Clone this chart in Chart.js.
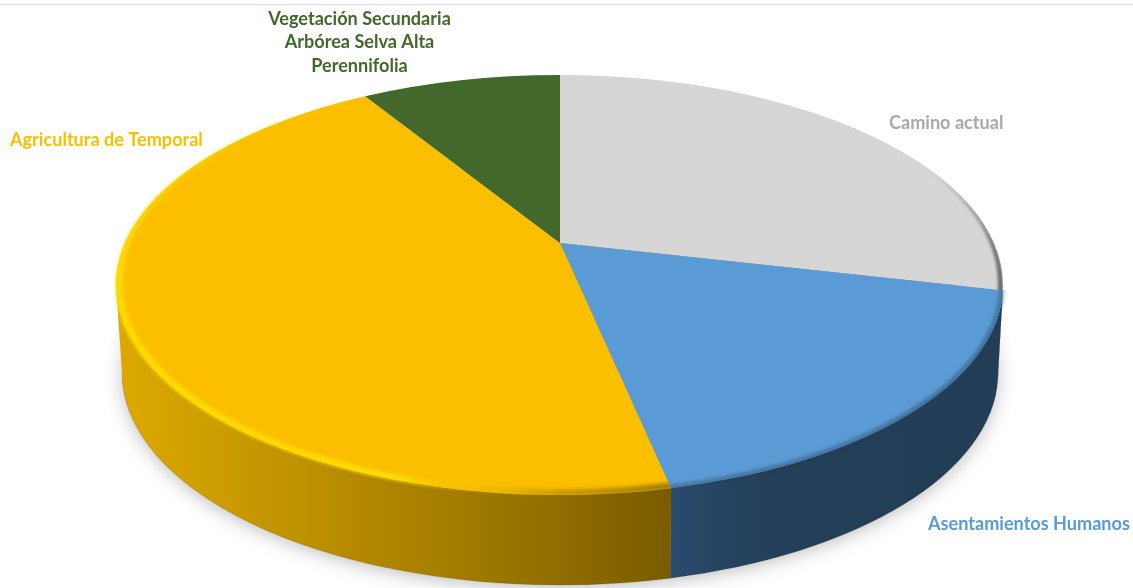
<!DOCTYPE html>
<html lang="es">
<head>
<meta charset="utf-8">
<title>Uso de suelo</title>
<script src="https://cdn.jsdelivr.net/npm/chart.js@4"></script>
<style>
  html, body { margin: 0; padding: 0; background: #fff; }
  #wrap { position: relative; width: 1133px; height: 588px; overflow: hidden; }
  #topRule { position: absolute; left: 0; right: 0; top: 4px; height: 1px; background: #d9d9d9; }
  canvas { display: block; }
</style>
</head>
<body>
<div id="wrap">
  <canvas id="landUseChart" width="1133" height="588"></canvas>
  <div id="topRule"></div>
</div>
<script>
const categories = [
  "Camino actual",
  "Asentamientos Humanos",
  "Agricultura de Temporal",
  ["Vegetación Secundaria", "Arbórea Selva Alta", "Perennifolia"],
];
const shares = [28.6, 18.1, 44.5, 8.8];
const sliceColors = ["#d6d6d6", "#5b9bd5", "#fbbf00", "#43682b"];
const labelColors = ["#a9a9a9", "#5b9bd5", "#fbbf00", "#43682b"];

// where each label sits: [x, y of first line, text align]
const labelSpots = [
  [889, 123, "left"],
  [928, 524, "left"],
  [10, 140, "left"],
  [359.5, 19, "center"],
];

// tilted disc: the hub sits above the middle of the rim ellipse because of perspective
const HUB_X = 560;
const HUB_Y = 243;
const TILT = 0.2;
const DISC_R = 434;
const DISC_S = 201.6;
const RIM = { x: HUB_X - 0.5, y: 285, rx: 443.5, ry: 210 };
const FOOT = { x: HUB_X, y: 373, rx: 438, ry: 212 };

const wallStops = [
  null,
  { from: 670, to: 1003, stops: [[0, "#2b4b6e"], [0.28, "#233f59"], [1, "#223e56"]] },
  { from: 125, to: 670, stops: [[0, "#dca800"], [0.55, "#a98100"], [1, "#7a5c00"]] },
  null,
];

// angle on the flat disc (library radians) to parameter on the rim ellipse
function rimParam(angle) {
  const theta = angle + Math.PI / 2;
  const u = Math.sin(theta);
  const v = -Math.cos(theta);
  const w = 1 - TILT * v;
  const px = HUB_X + (DISC_R * u) / w;
  const py = HUB_Y + (DISC_S * v) / w;
  return Math.atan2((py - RIM.y) / RIM.ry, (px - RIM.x) / RIM.rx);
}

function slicePath(ctx, el, grow) {
  const t0 = rimParam(el.startAngle);
  const t1 = rimParam(el.endAngle);
  ctx.beginPath();
  ctx.moveTo(HUB_X, HUB_Y);
  ctx.ellipse(RIM.x, RIM.y, RIM.rx + grow, RIM.ry + grow, 0, t0, t1);
  ctx.closePath();
}

function drawShadow(ctx) {
  ctx.save();
  ctx.shadowColor = "rgba(0,0,0,0.3)";
  ctx.shadowBlur = 20;
  ctx.shadowOffsetY = 3;
  ctx.fillStyle = "#999";
  ctx.beginPath();
  ctx.ellipse(FOOT.x, FOOT.y, FOOT.rx - 2, FOOT.ry - 2, 0, 0, Math.PI * 2);
  ctx.fill();
  ctx.restore();
}

function drawWall(ctx, el, index) {
  let t0 = rimParam(el.startAngle);
  let t1 = rimParam(el.endAngle);
  if (t1 < t0) t1 += Math.PI * 2;
  t0 = Math.max(t0, 0);
  t1 = Math.min(t1, Math.PI);
  if (t1 <= t0) return;

  const shade = wallStops[index];
  let fill = "#555";
  if (shade) {
    fill = ctx.createLinearGradient(shade.from, 0, shade.to, 0);
    shade.stops.forEach((s) => fill.addColorStop(s[0], s[1]));
  }

  ctx.save();
  ctx.fillStyle = fill;
  ctx.beginPath();
  ctx.ellipse(RIM.x, RIM.y, RIM.rx, RIM.ry, 0, t0, t1);
  ctx.ellipse(FOOT.x, FOOT.y, FOOT.rx, FOOT.ry, 0, t1, t0, true);
  ctx.closePath();
  ctx.fill();

  ctx.strokeStyle = "rgba(60,40,0,0.18)";
  ctx.lineWidth = 1;
  ctx.beginPath();
  ctx.ellipse(FOOT.x, FOOT.y, FOOT.rx, FOOT.ry, 0, t0, t1);
  ctx.stroke();
  ctx.restore();
}

function rimBand(ctx, inset, lift) {
  ctx.beginPath();
  ctx.ellipse(RIM.x, RIM.y, RIM.rx, RIM.ry, 0, 0, Math.PI * 2);
  ctx.ellipse(RIM.x, RIM.y - lift, RIM.rx - inset, RIM.ry - lift, 0, 0, Math.PI * 2);
  ctx.fill("evenodd");
}

// soft bevel along the near edge of the top face
function drawBevel(ctx, el, index) {
  ctx.save();
  if (index === 0) {
    const edge = ctx.createLinearGradient(930, 0, 1003, 0);
    edge.addColorStop(0, "rgba(110,110,110,0)");
    edge.addColorStop(1, "rgba(85,85,85,0.9)");
    slicePath(ctx, el, 0);
    ctx.clip();
    ctx.filter = "blur(1.5px)";
    ctx.fillStyle = edge;
    rimBand(ctx, 5, 2);
  } else if (index === 1) {
    slicePath(ctx, el, 4);
    ctx.clip();
    ctx.filter = "blur(2px)";
    ctx.fillStyle = "#223e56";
    rimBand(ctx, 2, 1);
  } else if (index === 2) {
    const glow = ctx.createLinearGradient(116, 0, 672, 0);
    glow.addColorStop(0, "rgba(255,224,0,0.95)");
    glow.addColorStop(0.51, "rgba(255,232,0,0.95)");
    glow.addColorStop(0.63, "rgba(235,190,0,0.3)");
    glow.addColorStop(0.8, "rgba(150,110,0,0.6)");
    glow.addColorStop(1, "rgba(122,92,0,0.9)");
    slicePath(ctx, el, 3);
    ctx.clip();
    ctx.filter = "blur(2px)";
    ctx.fillStyle = glow;
    rimBand(ctx, 6, 2.5);
  }
  ctx.restore();
}

const discPlugin = {
  id: "disc",
  beforeDatasetDraw(chart) {
    const ctx = chart.ctx;
    const arcs = chart.getDatasetMeta(0).data;

    drawShadow(ctx);
    arcs.forEach((el, i) => drawWall(ctx, el, i));
    arcs.forEach((el) => {
      slicePath(ctx, el, 0);
      ctx.fillStyle = el.options.backgroundColor;
      ctx.fill();
    });
    arcs.forEach((el, i) => drawBevel(ctx, el, i));
    return false;
  },
  afterDatasetsDraw(chart) {
    const ctx = chart.ctx;
    ctx.save();
    ctx.font = "bold 18.1px Lato, 'Open Sans', sans-serif";
    ctx.textBaseline = "middle";
    chart.data.labels.forEach((label, i) => {
      const lines = Array.isArray(label) ? label : [label];
      const spot = labelSpots[i];
      ctx.fillStyle = labelColors[i];
      ctx.textAlign = spot[2];
      lines.forEach((line, n) => ctx.fillText(line, spot[0], spot[1] + n * 23.5));
    });
    ctx.restore();
  },
};

new Chart(document.getElementById("landUseChart"), {
  type: "pie",
  data: {
    labels: categories,
    datasets: [
      {
        data: shares,
        backgroundColor: sliceColors,
        borderWidth: 0,
      },
    ],
  },
  options: {
    responsive: false,
    animation: false,
    plugins: {
      legend: { display: false },
      tooltip: { enabled: false },
    },
  },
  plugins: [discPlugin],
});
</script>
</body>
</html>
